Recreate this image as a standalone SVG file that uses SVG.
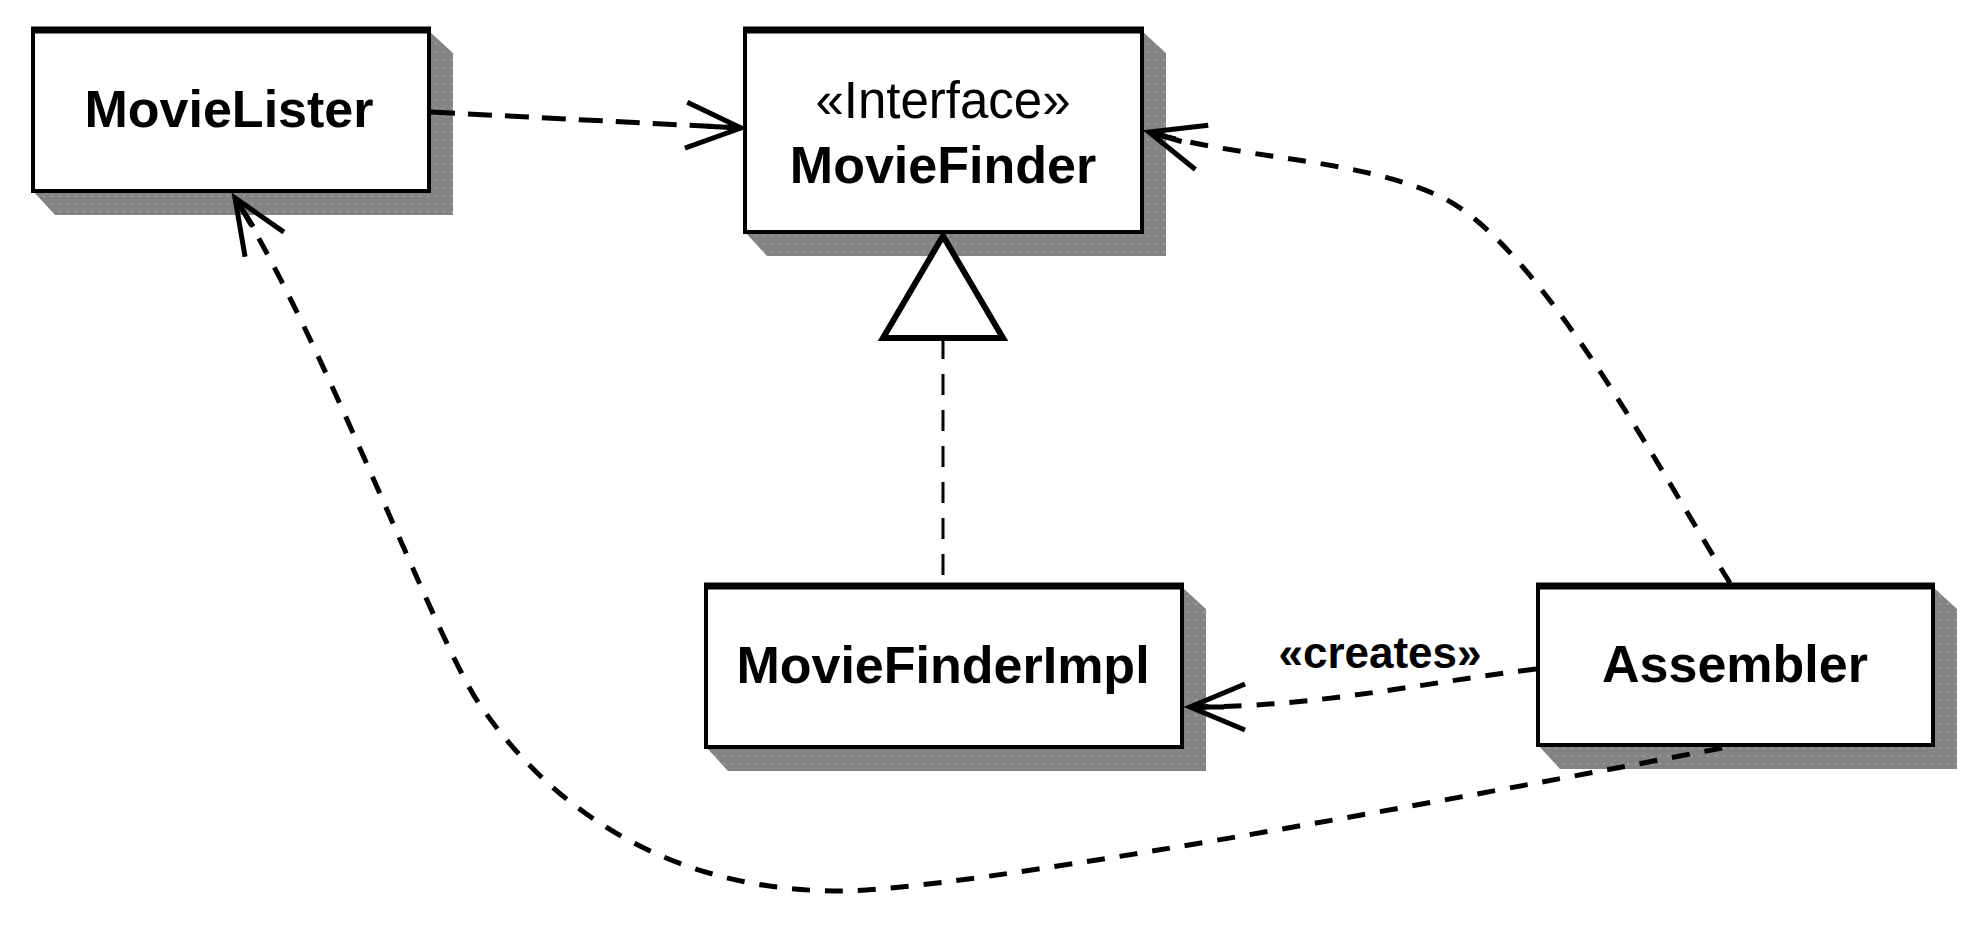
<svg xmlns="http://www.w3.org/2000/svg" width="1962" height="930" viewBox="0 0 1962 930">
  <style>
    .box { fill: #ffffff; stroke: #000000; stroke-width: 4; }
    .topbar { stroke: #000000; stroke-width: 7; }
    .shadow { fill: url(#dots); }
    .name { font-family: "Liberation Sans", Arial, sans-serif; font-weight: bold; font-size: 52px; fill: #000000; text-anchor: middle; }
    .stereo { font-family: "Liberation Sans", Arial, sans-serif; font-size: 51px; fill: #000000; text-anchor: middle; }
    .label { font-family: "Liberation Sans", Arial, sans-serif; font-weight: bold; font-size: 44px; fill: #000000; text-anchor: middle; }
    .dep { fill: none; stroke: #000000; stroke-width: 5; stroke-dasharray: 18 15; marker-end: url(#open); }
    .dep-straight { fill: none; stroke: #000000; stroke-width: 5; stroke-dasharray: 24 13; marker-end: url(#open); }
    .real { fill: none; stroke: #000000; stroke-width: 3; stroke-dasharray: 21 15; }
    .tri { fill: #ffffff; stroke: #000000; stroke-width: 6; stroke-linejoin: miter; }
  </style>
  <defs>
    <pattern id="dots" width="8" height="8" patternUnits="userSpaceOnUse">
      <rect width="8" height="8" fill="#848484"/>
      <rect x="3" y="3" width="2" height="2" fill="#9a9a9a"/>
    </pattern>
    <marker id="open" markerUnits="userSpaceOnUse" markerWidth="80" markerHeight="80" viewBox="-70 -40 80 80" refX="0" refY="0" orient="auto" overflow="visible">
      <path d="M-55,-23 L0,0 L-55,23 M-34,0 L0,0" fill="none" stroke="#000000" stroke-width="5" stroke-linejoin="miter"/>
    </marker>
  </defs>
  <rect width="1962" height="930" fill="#ffffff"/>

  <g id="MovieLister">
    <polygon class="shadow" points="429,31 453,53 453,215 55,215 33,191"/>
    <rect class="box" x="33" y="29" width="396" height="162"/>
    <line class="topbar" x1="31" y1="30" x2="431" y2="30"/>
    <text class="name" x="229" y="127">MovieLister</text>
  </g>

  <g id="MovieFinder">
    <polygon class="shadow" points="1142,31 1166,53 1166,256 767,256 745,232"/>
    <rect class="box" x="745" y="29" width="397" height="203"/>
    <line class="topbar" x1="743" y1="30" x2="1144" y2="30"/>
    <text class="stereo" x="943" y="118">«Interface»</text>
    <text class="name" x="943" y="183">MovieFinder</text>
  </g>

  <g id="MovieFinderImpl">
    <polygon class="shadow" points="1182,587 1206,609 1206,771 728,771 706,747"/>
    <rect class="box" x="706" y="585" width="476" height="162"/>
    <line class="topbar" x1="704" y1="586" x2="1184" y2="586"/>
    <text class="name" x="943" y="683">MovieFinderImpl</text>
  </g>

  <g id="Assembler">
    <polygon class="shadow" points="1933,587 1957,609 1957,769 1560,769 1538,745"/>
    <rect class="box" x="1538" y="585" width="395" height="160"/>
    <line class="topbar" x1="1536" y1="586" x2="1935" y2="586"/>
    <text class="name" x="1735" y="682">Assembler</text>
  </g>

  <g id="connectors">
    <path class="dep-straight" d="M431,112 L741,128"/>
    <path class="real" d="M943,338 L943,583"/>
    <polygon class="tri" points="943,236 1003,338 883,338"/>
    <path class="dep" d="M1730,583 C1662,475 1537,238 1437,195 C1350,157 1245,160 1149,132"/>
    <path class="dep" d="M1536,669 C1420,683 1320,707 1190,707"/>
    <text class="label" x="1380" y="668">«creates»</text>
    <path class="dep" d="M1722,748 C1450,800 960,891 840,891 C700,891 570,835 480,705 C435,640 322,335 235,198"/>
  </g>
</svg>
